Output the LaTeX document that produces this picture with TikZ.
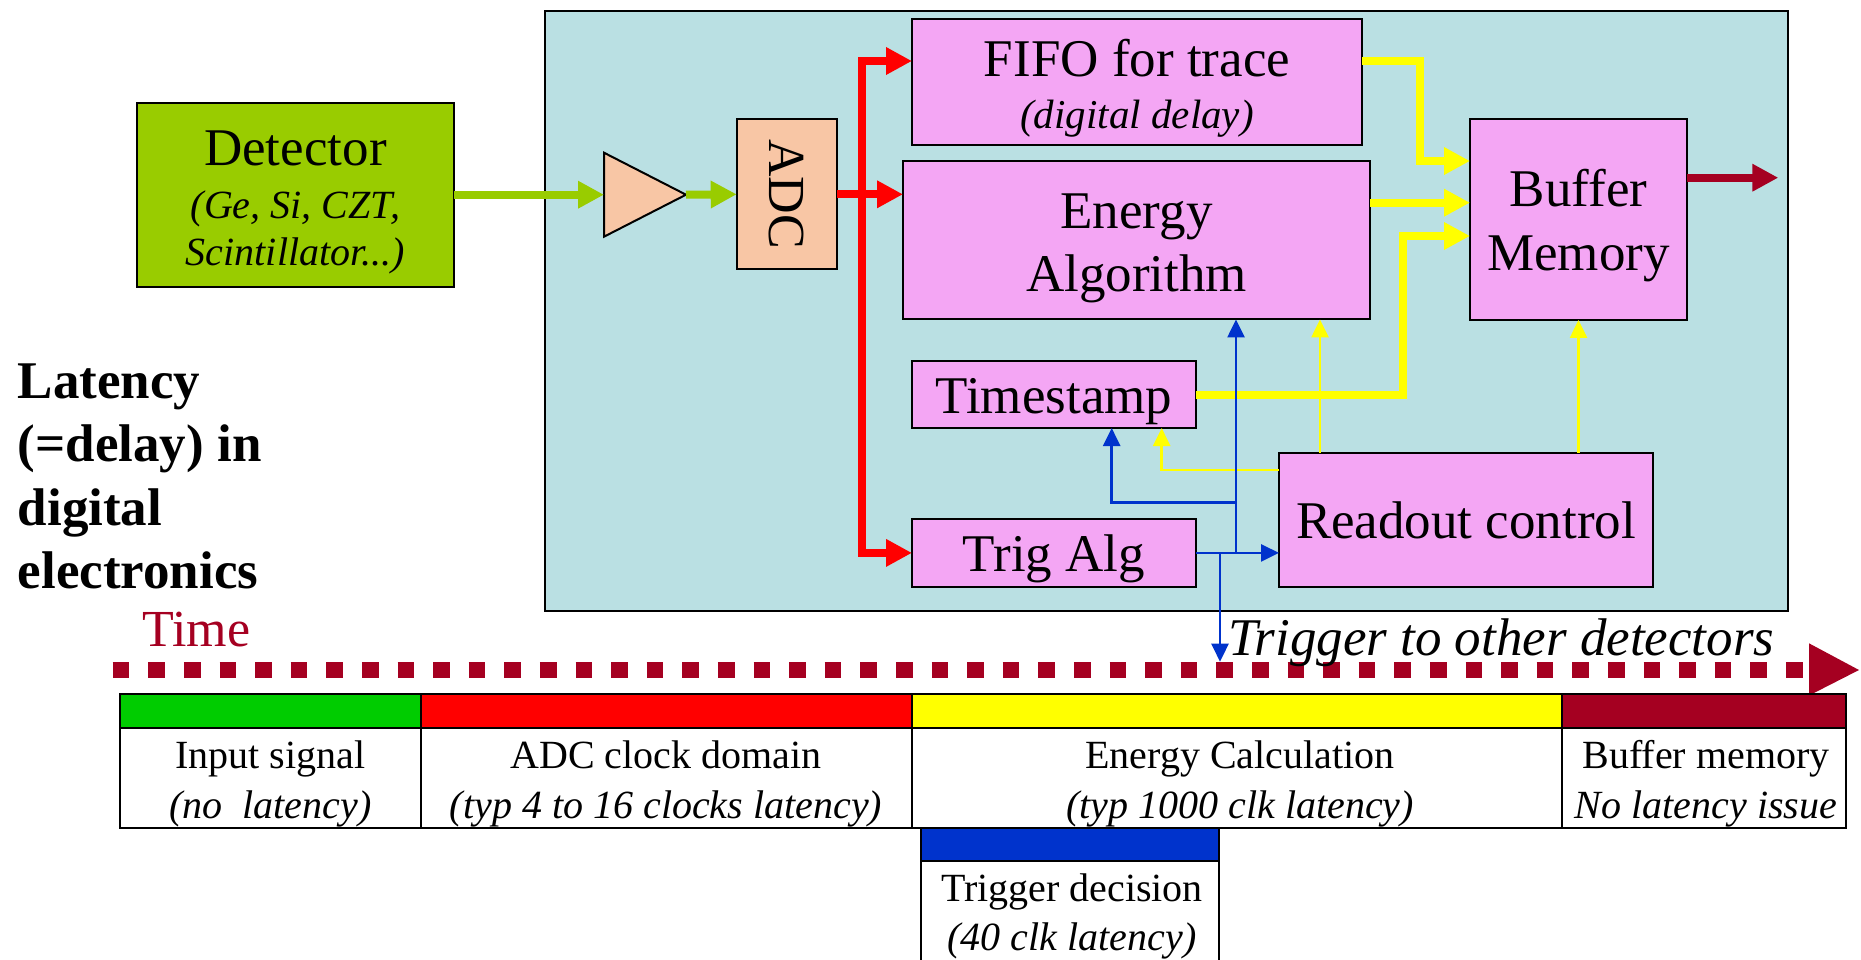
\documentclass[tikz,border=0pt]{standalone}
\usepackage{fontspec}
\setmainfont{Liberation Serif}
\usetikzlibrary{arrows.meta}
\definecolor{panelc}{HTML}{BAE0E3}
\definecolor{pinkc}{HTML}{F4A6F4}
\definecolor{peachc}{HTML}{F8C6A5}
\definecolor{detc}{HTML}{99CC00}
\definecolor{darkredc}{HTML}{A50021}
\definecolor{bluec}{HTML}{0033CC}
\definecolor{greenc}{HTML}{00CC00}
\definecolor{redc}{HTML}{FF0000}
\definecolor{yellowc}{HTML}{FFFF00}
\newcommand{\myfs}[1]{\fontsize{#1}{#1}\selectfont}
\begin{document}
\begin{tikzpicture}[x=1pt,y=-1pt,
  box/.style={draw=black,line width=2pt,fill=pinkc,inner sep=0pt,outer sep=0pt},
  lbl/.style={inner sep=0pt,outer sep=0pt,anchor=base,font=\myfs{53}},
  sublbl/.style={inner sep=0pt,outer sep=0pt,anchor=base,font=\myfs{40}\itshape},
  cell/.style={inner sep=0pt,outer sep=0pt,anchor=base,font=\myfs{40}},
  cellit/.style={inner sep=0pt,outer sep=0pt,anchor=base,font=\myfs{40}\itshape},
  side/.style={inner sep=0pt,outer sep=0pt,anchor=base west,font=\myfs{53}\bfseries},
  fat/.style={line width=8pt,-{Triangle[length=26pt,width=26pt]}},
  slim/.style={line width=2.5pt,-{Triangle[length=18pt,width=17pt]}},
  tbl/.style={draw=black,line width=2pt},
]
\useasboundingbox (0,0) rectangle (1861,959);
\clip (0,0) rectangle (1861,959);

% panel
\node[draw=black,line width=2pt,fill=panelc,minimum width=1243pt,minimum height=600pt,inner sep=0pt] (panel) at (1166,311) {};

% boxes
\node[box,fill=detc,minimum width=316.7pt,minimum height=184pt] (det) at (295.4,194.7) {};
\node[box,fill=peachc,minimum width=100.6pt,minimum height=150pt] (adc) at (787,194.3) {};
\node[box,minimum width=450pt,minimum height=125.2pt] (fifo) at (1137,81.9) {};
\node[box,minimum width=467pt,minimum height=158.5pt] (energy) at (1136.5,240.2) {};
\node[box,minimum width=284pt,minimum height=67pt] (ts) at (1054,394.5) {};
\node[box,minimum width=284pt,minimum height=67.2pt] (trig) at (1054,552.9) {};
\node[box,minimum width=374pt,minimum height=133.8pt] (readout) at (1466,519.6) {};
\node[box,minimum width=217pt,minimum height=200.7pt] (buffer) at (1578.5,219.6) {};

% amplifier
\coordinate (ampin) at (604,194.7);
\coordinate (ampout) at (686,194.7);
\draw[line width=2pt,fill=peachc] (604,152.7) -- (ampout) -- (604,236.7) -- cycle;

% texts in boxes
\node[lbl] (detT) at (295.4,165) {Detector};
\node[sublbl] (detS1) at (295.4,218.3) {(Ge, Si, CZT,};
\node[sublbl] (detS2) at (295.4,265) {Scintillator...)};
\node[rotate=-90,font=\myfs{52},inner sep=0pt,text height=34.5pt,text depth=0pt] (adcT) at (adc.center) {ADC};
\node[lbl] (fifoT) at (1137,76.7) {FIFO for trace};
\node[sublbl,font=\myfs{41}\itshape] (fifoS) at (1137,128.3) {(digital delay)};
\node[lbl] (enT1) at (1136.5,228.3) {Energy};
\node[lbl] (enT2) at (1136.5,291.7) {Algorithm};
\node[lbl] (bufT1) at (1578.5,206.7) {Buffer};
\node[lbl] (bufT2) at (1578.5,270) {Memory};
\node[lbl] (tsT) at (1054,413.3) {Timestamp};
\node[lbl] (trigT) at (1054,571.7) {Trig Alg};
\node[lbl] (roT) at (1466,538.3) {Readout control};

% green arrows
\draw[fat,detc] (det.east) -- (ampin);
\draw[fat,detc] (ampout) -- (adc.west);

% red arrows
\coordinate (rtop) at (862,61);
\draw[fat,redc] (adc.east) -- (energy.west |- adc.east);
\draw[line width=8pt,redc,{Triangle[length=26pt,width=26pt]}-{Triangle[length=26pt,width=26pt]}] (fifo.west |- rtop) -- (rtop) |- (trig.west);

% thick yellow arrows
\coordinate (y1) at (1420,61);
\coordinate (y1b) at (1420,161);
\draw[fat,yellowc] (fifo.east |- y1) -- (y1) -- (y1b) -- (buffer.west |- y1b);
\coordinate (ye) at (1420,202.7);
\draw[fat,yellowc] (energy.east |- ye) -- (buffer.west |- ye);
\coordinate (yt) at (1402.7,236);
\draw[fat,yellowc] (ts.east) -| (yt) -- (buffer.west |- yt);

% buffer output
\coordinate (bout) at (1778.3,177.7);
\draw[fat,darkredc] (buffer.east |- bout) -- (bout);

% thin yellow arrows
\coordinate (xe) at (1320,300);
\draw[slim,yellowc] (readout.north -| xe) -- (energy.south -| xe);
\draw[slim,yellowc] (readout.north -| buffer.south) -- (buffer.south);
\coordinate (yrt) at (1161.7,470);
\draw[slim,yellowc] (readout.west |- yrt) -| (ts.south -| yrt);

% thin blue arrows
\coordinate (bx) at (1236,502.7);
\coordinate (bt) at (1111.7,502.7);
\draw[slim,bluec] (trig.east) -- (readout.west |- trig.east);
\draw[slim,bluec] (trig.east -| bx) -- (energy.south -| bx);
\draw[slim,bluec] (bx) -- (bt) -- (ts.south -| bt);

% left text
\node[side] (lat1) at (17.8,398.3) {Latency};
\node[side] (lat2) at (17.8,461.7) {(=delay) in};
\node[side] (lat3) at (17.8,525) {digital};
\node[side] (lat4) at (17.8,588.3) {electronics};
\node[inner sep=0pt,anchor=base west,font=\myfs{52},text=darkredc] (time) at (142,646.7) {Time};

% time axis
\coordinate (t0) at (112.7,670);
\coordinate (tmid) at (1809,670);
\coordinate (t1) at (1859,670);
\draw[darkredc,line width=16.7pt,dash pattern=on 16.6pt off 19pt] (t0) -- (tmid);
\fill[darkredc] (1809,643.3) -- (t1) -- (1809,695.5) -- cycle;

\node[inner sep=0pt,anchor=base west,font=\myfs{53}\itshape] (trigtxt) at (1228,655.7) {Trigger to other detectors};

\coordinate (trigout) at (1220,661.7);
\draw[slim,bluec] (trig.east -| trigout) -- (trigout);

% table
\draw[tbl,fill=greenc] (120.4,694.3) rectangle (420.5,728.3);
\draw[tbl,fill=redc] (420.5,694.3) rectangle (911.6,728.3);
\draw[tbl,fill=yellowc] (911.6,694.3) rectangle (1562,728.3);
\draw[tbl,fill=darkredc] (1562,694.3) rectangle (1845.7,728.3);
\draw[tbl,fill=white] (120.4,728.3) rectangle (420.5,828.3);
\draw[tbl,fill=white] (420.5,728.3) rectangle (911.6,828.3);
\draw[tbl,fill=white] (911.6,728.3) rectangle (1562,828.3);
\draw[tbl,fill=white] (1562,728.3) rectangle (1845.7,828.3);
\draw[tbl,fill=bluec] (920.8,828.3) rectangle (1219.3,861);
\draw[tbl,fill=white] (920.8,861) rectangle (1219.3,975);

\node[cell] (c1a) at (270.5,768.3) {Input signal};
\node[cellit] (c1b) at (270.5,818.3) {(no\ \ latency)};
\node[cell] (c2a) at (666,768.3) {ADC clock domain};
\node[cellit] (c2b) at (666,818.3) {(typ 4 to 16 clocks latency)};
\node[cell] (c3a) at (1240,768.3) {Energy Calculation};
\node[cellit] (c3b) at (1240,818.3) {(typ 1000 clk latency)};
\node[cell] (c4a) at (1706,768.3) {Buffer memory};
\node[cellit] (c4b) at (1706,818.3) {No latency issue};
\node[cell] (c5a) at (1072,901.7) {Trigger decision};
\node[cellit] (c5b) at (1072,950) {(40 clk latency)};
\end{tikzpicture}
\end{document}
